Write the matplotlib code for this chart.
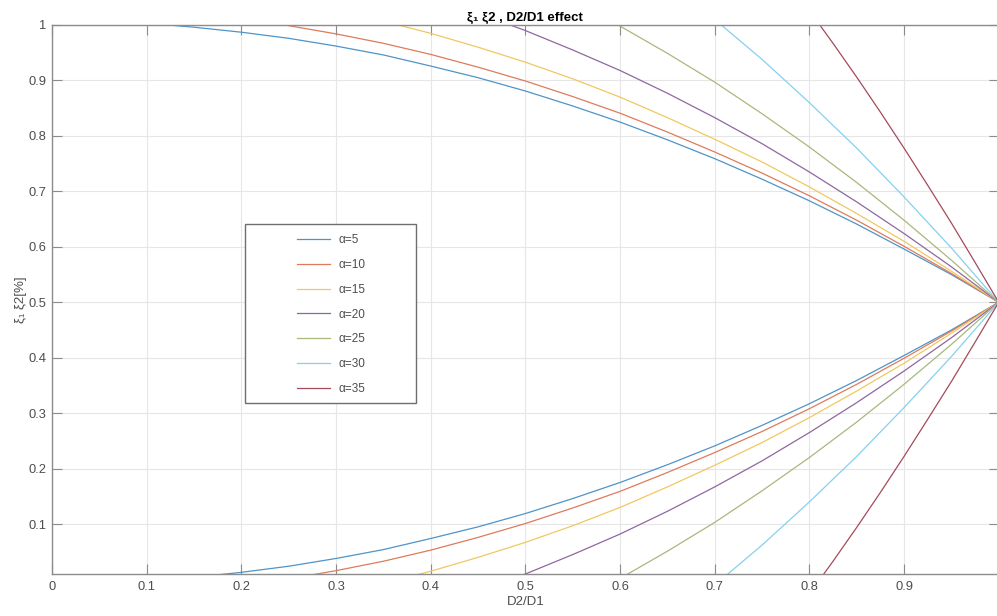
import matplotlib
matplotlib.use("Agg")
import matplotlib.pyplot as plt
from matplotlib.patches import Rectangle

plt.rcParams['font.family'] = ['Liberation Sans', 'DejaVu Sans']

# values (upper branch and lower branch per alpha)
alphas = [5, 10, 15, 20, 25, 30, 35]

x_a5 = [0.123, 0.15, 0.2, 0.25, 0.3, 0.35, 0.4, 0.45, 0.5, 0.55, 0.6, 0.65, 0.7, 0.75, 0.8,
        0.85, 0.9, 0.95, 1.0]
up_a5 = [1.0, 0.996, 0.987, 0.976, 0.962, 0.946, 0.926, 0.905, 0.881, 0.854, 0.825, 0.793,
         0.759, 0.722, 0.683, 0.641, 0.596, 0.550, 0.5]
lo_a5 = [0.0, 0.004, 0.013, 0.024, 0.038, 0.054, 0.074, 0.095, 0.119, 0.146, 0.175, 0.207,
         0.241, 0.278, 0.317, 0.359, 0.404, 0.450, 0.5]

x_a10 = [0.246, 0.3, 0.35, 0.4, 0.45, 0.5, 0.55, 0.6, 0.65, 0.7, 0.75, 0.8, 0.85, 0.9, 0.95, 1.0]
up_a10 = [1.0, 0.984, 0.967, 0.947, 0.924, 0.899, 0.871, 0.841, 0.807, 0.771, 0.733, 0.692,
          0.648, 0.601, 0.552, 0.5]
lo_a10 = [0.0, 0.016, 0.033, 0.053, 0.076, 0.101, 0.129, 0.159, 0.193, 0.229, 0.267, 0.308,
          0.352, 0.399, 0.448, 0.5]

x_a15 = [0.366, 0.4, 0.45, 0.5, 0.55, 0.6, 0.65, 0.7, 0.75, 0.8, 0.85, 0.9, 0.95, 1.0]
up_a15 = [1.0, 0.985, 0.960, 0.933, 0.903, 0.870, 0.833, 0.794, 0.753, 0.708, 0.660, 0.610,
          0.556, 0.5]
lo_a15 = [0.0, 0.015, 0.040, 0.067, 0.097, 0.130, 0.167, 0.206, 0.247, 0.292, 0.340, 0.390,
          0.444, 0.5]

x_a20 = [0.484, 0.5, 0.55, 0.6, 0.65, 0.7, 0.75, 0.8, 0.85, 0.9, 0.95, 1.0]
up_a20 = [1.0, 0.990, 0.955, 0.918, 0.877, 0.833, 0.786, 0.735, 0.681, 0.624, 0.564, 0.5]
lo_a20 = [0.0, 0.010, 0.045, 0.082, 0.123, 0.167, 0.214, 0.265, 0.319, 0.376, 0.436, 0.5]

x_a25 = [0.598, 0.65, 0.7, 0.75, 0.8, 0.85, 0.9, 0.95, 1.0]
up_a25 = [1.0, 0.949, 0.897, 0.840, 0.780, 0.716, 0.648, 0.576, 0.5]
lo_a25 = [0.0, 0.051, 0.103, 0.160, 0.220, 0.284, 0.352, 0.424, 0.5]

x_a30 = [0.707, 0.725, 0.75, 0.775, 0.8, 0.825, 0.85, 0.875, 0.9, 0.925, 0.95, 0.975, 1.0]
up_a30 = [1.0, 0.974, 0.938, 0.899, 0.860, 0.819, 0.778, 0.734, 0.690, 0.644, 0.598, 0.549, 0.5]
lo_a30 = [0.0, 0.026, 0.062, 0.101, 0.140, 0.181, 0.222, 0.266, 0.310, 0.356, 0.402, 0.451, 0.5]

x_a35 = [0.811, 0.825, 0.85, 0.875, 0.9, 0.925, 0.95, 0.975, 1.0]
up_a35 = [1.0, 0.967, 0.906, 0.843, 0.778, 0.711, 0.643, 0.572, 0.5]
lo_a35 = [0.0, 0.033, 0.094, 0.157, 0.222, 0.289, 0.357, 0.428, 0.5]

xs = [x_a5, x_a10, x_a15, x_a20, x_a25, x_a30, x_a35]
ups = [up_a5, up_a10, up_a15, up_a20, up_a25, up_a30, up_a35]
los = [lo_a5, lo_a10, lo_a15, lo_a20, lo_a25, lo_a30, lo_a35]

colors = ['#4f94c8', '#de7b5b', '#f0c860', '#8f67a0', '#a9b87c', '#86d0ef', '#a54a5a']

xticks = [0, 0.1, 0.2, 0.3, 0.4, 0.5, 0.6, 0.7, 0.8, 0.9, 1.0]
xtick_labels = ['0', '0.1', '0.2', '0.3', '0.4', '0.5', '0.6', '0.7', '0.8', '0.9', '']
yticks = [0.1, 0.2, 0.3, 0.4, 0.5, 0.6, 0.7, 0.8, 0.9, 1.0]
ytick_labels = ['0.1', '0.2', '0.3', '0.4', '0.5', '0.6', '0.7', '0.8', '0.9', '1']

fig = plt.figure(figsize=(9.97, 6.16), dpi=100)
ax = fig.add_axes([52 / 997, 42 / 616, 946.7 / 997, 549 / 616])

for a, x, up, lo, c in zip(alphas, xs, ups, los, colors):
    ax.plot(x, up, color=c, lw=0.9, label='α=%d' % a)
    ax.plot(x, lo, color=c, lw=0.9)

ax.set_xlim(0, 1)
ax.set_ylim(0.01, 1)
ax.set_xticks(xticks)
ax.set_xticklabels(xtick_labels)
ax.set_yticks(yticks)
ax.set_yticklabels(ytick_labels)

axis_col = '#8c8c8c'
for s in ax.spines.values():
    s.set_color(axis_col)
    s.set_linewidth(1.0)
ax.tick_params(direction='in', length=7, width=0.8, color=axis_col,
               labelcolor='#4d4d4d', labelsize=9.3, top=True, right=True)
ax.tick_params(axis='x', pad=5)
ax.tick_params(axis='y', pad=4)
ax.grid(True, color='#e6e6e6', lw=0.8)
ax.set_axisbelow(True)

ax.set_title('ξ₁ ξ2 , D2/D1 effect', fontsize=9.5, fontweight='bold', pad=3)
ax.set_xlabel('D2/D1', fontsize=9.5, color='#4d4d4d', labelpad=2)
ax.set_ylabel('ξ₁ ξ2[%]', fontsize=9.5, color='#4d4d4d', labelpad=1)

leg = ax.legend(loc='upper left', bbox_to_anchor=(0.2588, 0.6194), borderaxespad=0,
                borderpad=0, frameon=False, fontsize=8.5, handlelength=2.8,
                handletextpad=0.68, labelspacing=1.09)
for t in leg.get_texts():
    t.set_color('#4d4d4d')
ax.add_patch(Rectangle((0.2039, 0.3115), 0.1806, 0.326, transform=ax.transAxes,
                       fill=True, facecolor='white', edgecolor='#6e6e6e', lw=1.0, zorder=4))
leg.set_zorder(5)

fig.savefig('out.png', dpi=100)
